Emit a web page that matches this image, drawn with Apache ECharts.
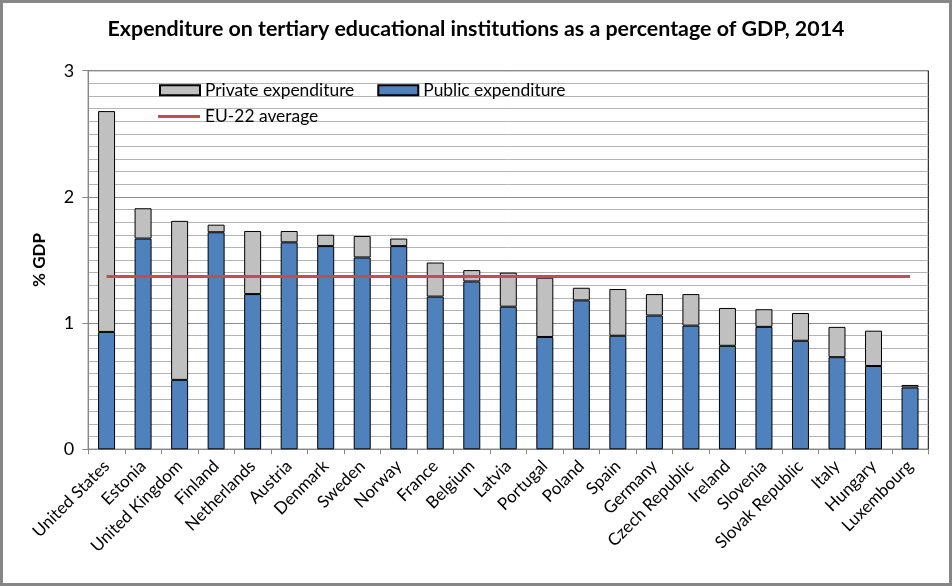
<!DOCTYPE html>
<html>
<head>
<meta charset="utf-8">
<script src="https://cdn.jsdelivr.net/npm/echarts@6/dist/echarts.min.js"></script>
<style>
html,body{margin:0;padding:0;background:#fff;}
#chart{width:952px;height:586px;}
</style>
</head>
<body>
<div id="chart"></div>
<script>
const categories = ["United States","Estonia","United Kingdom","Finland","Netherlands","Austria","Denmark","Sweden","Norway","France","Belgium","Latvia","Portugal","Poland","Spain","Germany","Czech Republic","Ireland","Slovenia","Slovak Republic","Italy","Hungary","Luxembourg"];
const publicExpenditure = [0.93,1.67,0.55,1.72,1.23,1.64,1.61,1.52,1.61,1.21,1.33,1.13,0.89,1.18,0.90,1.06,0.98,0.82,0.97,0.86,0.73,0.66,0.49];
const privateExpenditure = [1.75,0.24,1.26,0.06,0.50,0.09,0.09,0.17,0.06,0.27,0.09,0.27,0.47,0.10,0.37,0.17,0.25,0.30,0.14,0.22,0.24,0.28,0.02];
const euAverage = 1.37;
const yTicks = [0,1,2,3];

const FONT = 'Lato, "Open Sans", sans-serif';
const chart = echarts.init(document.getElementById('chart'), null, {renderer:'canvas'});
chart.setOption({
  animation:false,
  backgroundColor:'#fff',
  textStyle:{fontFamily:FONT,color:'#000'},
  title:{
    text:'Expenditure on tertiary educational institutions as a percentage of GDP, 2014',
    left:'center', top:14,
    textStyle:{fontFamily:FONT,fontWeight:'bold',fontSize:21.4,color:'#000'}
  },
  graphic:[{type:'rect',shape:{x:1.5,y:1.5,width:949,height:583},style:{fill:null,stroke:'#868686',lineWidth:3},z:100}],
  legend:[
    {data:[{name:'Private expenditure',icon:'rect'},{name:'Public expenditure',icon:'rect'}],left:154,top:76.7,itemWidth:40,itemHeight:10,itemGap:23,
     textStyle:{fontFamily:FONT,fontSize:17.4,color:'#000'},selectedMode:false},
    {data:[{name:'EU-22 average',icon:'rect'}],left:153,top:103,itemWidth:42,itemHeight:3,
     textStyle:{fontFamily:FONT,fontSize:17.4,color:'#000'},selectedMode:false}
  ],
  grid:{left:88.3,right:23.7,top:70.7,bottom:136.7,show:true,borderColor:'#000',borderWidth:1,backgroundColor:'transparent'},
  xAxis:{
    type:'category',data:categories,
    axisLine:{lineStyle:{color:'#868686',width:1}},
    axisTick:{show:true,length:5,lineStyle:{color:'#868686'}},
    axisLabel:{rotate:45,fontSize:17,color:'#000',fontFamily:FONT,margin:14,interval:0}
  },
  yAxis:{
    type:'value',min:0,max:3,interval:1,
    name:'% GDP',nameLocation:'middle',nameRotate:90,nameGap:40,
    nameTextStyle:{fontFamily:FONT,fontWeight:'bold',fontSize:17,color:'#000'},
    axisLine:{show:true,lineStyle:{color:'#868686'}},
    axisTick:{show:true,length:6,lineStyle:{color:'#868686'}},
    axisLabel:{fontSize:18,color:'#000',fontFamily:FONT,margin:14,
      formatter:v=>yTicks.includes(v)?String(v):''},
    splitLine:{show:true,lineStyle:{color:'#8c8c8c',width:1}},
    minorTick:{show:false,splitNumber:10},
    minorSplitLine:{show:true,lineStyle:{color:'#b4b4b4',width:1}}
  },
  series:[
    {name:'Public expenditure',type:'bar',stack:'total',data:publicExpenditure,barWidth:'46.5%',
     itemStyle:{color:'#4f81bd',borderColor:'#000',borderWidth:1}},
    {name:'Private expenditure',type:'bar',stack:'total',data:privateExpenditure,barWidth:'46.5%',
     itemStyle:{color:'#c0c0c0',borderColor:'#000',borderWidth:1}},
    {name:'EU-22 average',type:'line',data:categories.map(()=>euAverage),symbol:'none',z:5,
     lineStyle:{color:'#c0504d',width:3},itemStyle:{color:'#c0504d'}}
  ]
});
</script>
</body>
</html>
